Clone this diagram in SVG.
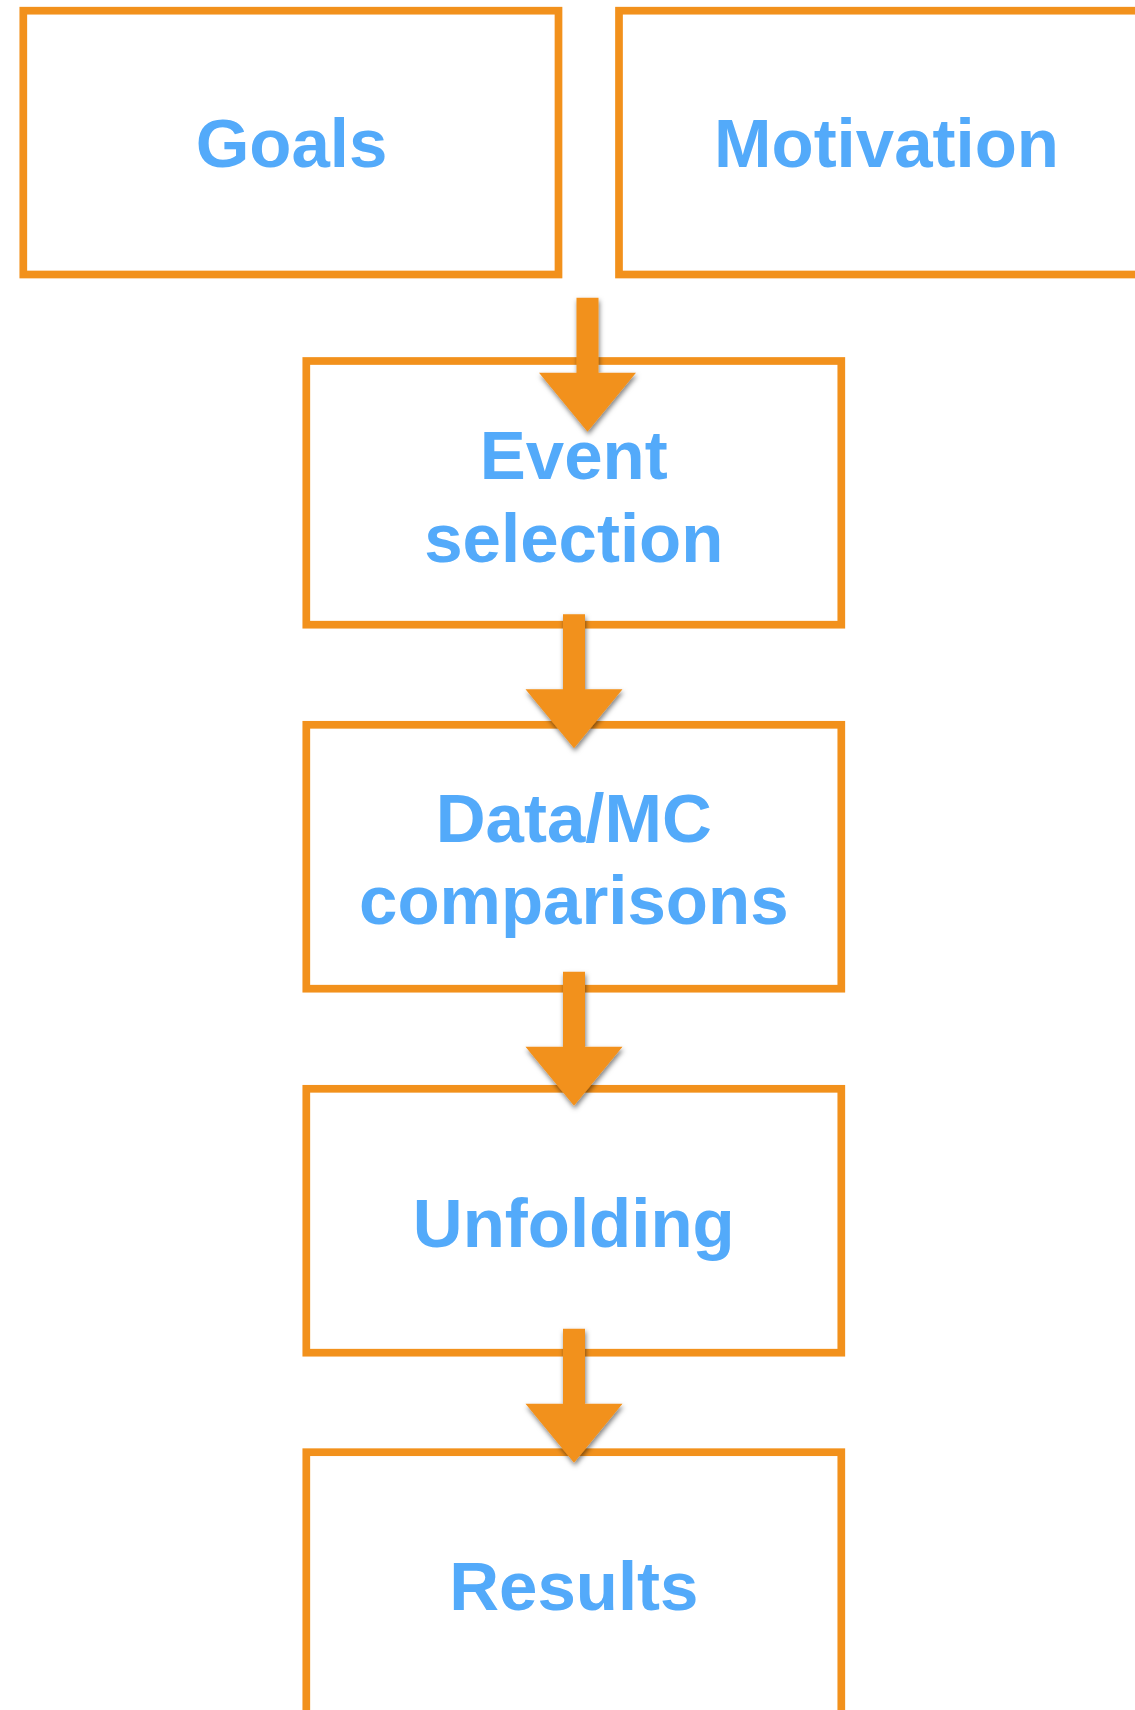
<svg xmlns="http://www.w3.org/2000/svg" width="1135" height="1710" viewBox="0 0 1135 1710">
  <style>
    .box { fill: #ffffff; stroke: #F2911C; stroke-width: 7.7; }
    .label { font-family: "Liberation Sans", Arial, Helvetica, sans-serif; font-weight: bold; font-size: 69px; fill: #53AAFA; text-anchor: middle; }
    .arrow { fill: #F2911C; filter: url(#shadow); }
  </style>
  <defs>
    <filter id="shadow" x="-30%" y="-30%" width="160%" height="160%">
      <feDropShadow dx="1" dy="3" stdDeviation="2.5" flood-color="#000000" flood-opacity="0.5"/>
    </filter>
    <!-- block arrow pointing down, tip at (0,0) -->
    <path id="downArrow" d="M -11 -134 L 11 -134 L 11 -59 L 48.5 -59 L 0 0 L -48.5 -59 L -11 -59 Z"/>
  </defs>
  <rect width="1135" height="1710" fill="#ffffff"/>

  <g id="goals">
    <rect class="box" x="23.3" y="10.7" width="535.2" height="263.8"/>
    <text class="label" x="291.5" y="166.7">Goals</text>
  </g>

  <g id="motivation">
    <rect class="box" x="619" y="10.7" width="535.2" height="263.8"/>
    <text class="label" x="886.5" y="166.7">Motivation</text>
  </g>

  <g id="event-selection">
    <rect class="box" x="306.3" y="361" width="535" height="263.7"/>
    <text class="label" x="573.8" y="479">Event</text>
    <text class="label" x="573.8" y="561.7">selection</text>
  </g>

  <g id="data-mc">
    <rect class="box" x="306.3" y="724.8" width="535" height="263.9"/>
    <text class="label" x="573.8" y="841.7">Data/MC</text>
    <text class="label" x="573.8" y="924">comparisons</text>
  </g>

  <g id="unfolding">
    <rect class="box" x="306.3" y="1088.8" width="535" height="263.9"/>
    <text class="label" x="573.8" y="1246.7">Unfolding</text>
  </g>

  <g id="results">
    <rect class="box" x="306.3" y="1452.2" width="535" height="263.9"/>
    <text class="label" x="573.8" y="1610">Results</text>
  </g>

  <g id="connectors">
    <use href="#downArrow" class="arrow" transform="translate(587.5,431.7)"/>
    <use href="#downArrow" class="arrow" transform="translate(574,748.3)"/>
    <use href="#downArrow" class="arrow" transform="translate(574,1105.7)"/>
    <use href="#downArrow" class="arrow" transform="translate(574,1462.7)"/>
  </g>
</svg>
